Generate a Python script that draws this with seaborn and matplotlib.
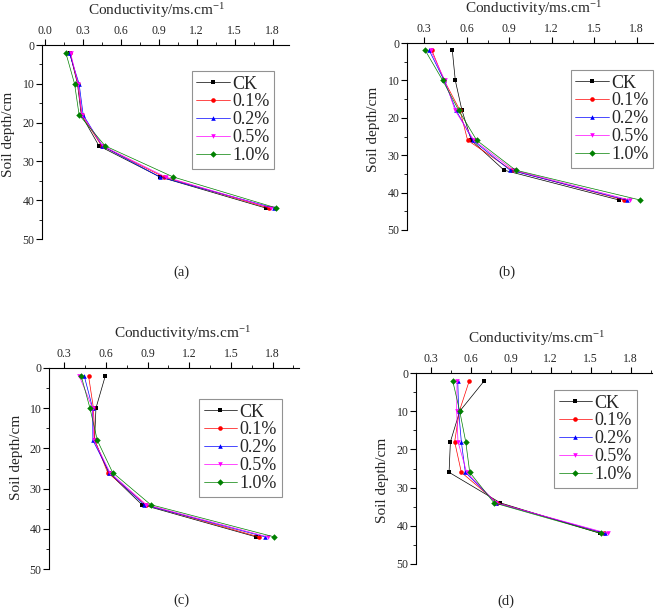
import numpy as np
import pandas as pd
import matplotlib
matplotlib.use("Agg")
import matplotlib.pyplot as plt
from matplotlib.lines import Line2D
from matplotlib.ticker import MultipleLocator
import seaborn as sns

sns.set_style("white")
plt.rcParams["font.family"] = ["Liberation Serif", "DejaVu Serif"]
plt.rcParams["mathtext.fontset"] = "custom"
plt.rcParams["mathtext.rm"] = "Liberation Serif"
plt.rcParams["mathtext.default"] = "regular"

# ---------------- data ----------------
depth = [2, 10, 18, 26, 34, 42]
treatments = ["CK", "0.1%", "0.2%", "0.5%", "1.0%"]

a_ck = [0.20, 0.26, 0.29, 0.43, 0.91, 1.745]
a_01 = [0.20, 0.265, 0.295, 0.45, 0.94, 1.77]
a_02 = [0.195, 0.273, 0.305, 0.455, 0.91, 1.81]
a_05 = [0.205, 0.265, 0.295, 0.46, 0.955, 1.79]
a_10 = [0.168, 0.237, 0.273, 0.478, 1.015, 1.83]

b_ck = [0.498, 0.519, 0.566, 0.632, 0.863, 1.677]
b_01 = [0.354, 0.44, 0.552, 0.606, 0.917, 1.712]
b_02 = [0.335, 0.44, 0.525, 0.642, 0.905, 1.73]
b_05 = [0.345, 0.446, 0.517, 0.65, 0.93, 1.753]
b_10 = [0.307, 0.43, 0.543, 0.67, 0.945, 1.826]

c_ck = [0.595, 0.528, 0.518, 0.619, 0.859, 1.68]
c_01 = [0.475, 0.51, 0.52, 0.612, 0.886, 1.70]
c_02 = [0.444, 0.504, 0.506, 0.624, 0.874, 1.745]
c_05 = [0.408, 0.504, 0.514, 0.629, 0.89, 1.764]
c_10 = [0.422, 0.485, 0.538, 0.648, 0.922, 1.81]

d_ck = [0.703, 0.518, 0.448, 0.438, 0.823, 1.573]
d_01 = [0.59, 0.515, 0.48, 0.53, 0.80, 1.598]
d_02 = [0.503, 0.51, 0.53, 0.56, 0.79, 1.61]
d_05 = [0.498, 0.495, 0.505, 0.57, 0.79, 1.63]
d_10 = [0.465, 0.518, 0.563, 0.593, 0.775, 1.58]

panel_names = ["(a)", "(b)", "(c)", "(d)"]
panel_series = [
    [a_ck, a_01, a_02, a_05, a_10],
    [b_ck, b_01, b_02, b_05, b_10],
    [c_ck, c_01, c_02, c_05, c_10],
    [d_ck, d_01, d_02, d_05, d_10],
]
x_ticks_list = [
    [0.0, 0.3, 0.6, 0.9, 1.2, 1.5, 1.8],
    [0.3, 0.6, 0.9, 1.2, 1.5, 1.8],
    [0.3, 0.6, 0.9, 1.2, 1.5, 1.8],
    [0.3, 0.6, 0.9, 1.2, 1.5, 1.8],
]
y_ticks = [0, 10, 20, 30, 40, 50]

# ---------------- styling ----------------
colors = ["#000000", "#FF0000", "#0000FF", "#FF00FF", "#008000"]
markers = ["s", "o", "^", "v", "D"]
palette = dict(zip(treatments, colors))
marker_map = dict(zip(treatments, markers))

W, H = 660, 616
fig = plt.figure(figsize=(W / 100, H / 100), dpi=100)

# axes boxes in pixels: left, right, top, bottom
boxes = [
    (42, 289, 45, 239),
    (407, 653, 43, 230),
    (49, 299, 368, 569),
    (416, 652, 373, 564),
]
xlims = [(-0.02, 1.93), (0.178, 1.915), (0.19, 1.99), (0.19, 1.96)]
xlabel_frac = [0.464, 0.515, 0.532, 0.511]
ylabel_frac = [0.539, 0.54, 0.555, 0.44]
legend_pos = [(191.7, 71), (570.7, 70), (199, 399), (554, 390)]
panel_label_pos = [(181.7, 272), (506.7, 272), (181.7, 600), (506, 601)]

for i in range(4):
    l, r, t, b = boxes[i]
    ax = fig.add_axes([l / W, 1 - b / H, (r - l) / W, (b - t) / H])
    rows = []
    for name, vals in zip(treatments, panel_series[i]):
        for d, v in zip(depth, vals):
            rows.append({"cond": v, "depth": d, "treat": name})
    df = pd.DataFrame(rows)
    sns.lineplot(data=df, x="cond", y="depth", hue="treat", style="treat",
                 palette=palette, markers=marker_map, dashes=False,
                 sort=False, estimator=None, legend=False, ax=ax,
                 linewidth=0.5, markersize=3.3, markeredgewidth=0)

    ax.set_xlim(*xlims[i])
    ax.set_ylim(50, 0)
    ax.xaxis.tick_top()
    ax.xaxis.set_label_position("top")
    ax.set_xticks(x_ticks_list[i])
    ax.set_xticklabels([f"{v:.1f}" for v in x_ticks_list[i]])
    ax.xaxis.set_minor_locator(MultipleLocator(0.15))
    ax.set_yticks(y_ticks)
    ax.yaxis.set_minor_locator(MultipleLocator(5))
    ax.tick_params(axis="both", which="major", direction="out", length=4,
                   width=0.8, labelsize=8.5, pad=1.5, color="black")
    ax.tick_params(axis="both", which="minor", direction="out", length=2.2,
                   width=0.6, color="black")
    ax.tick_params(axis="x", which="both", top=True, bottom=False)
    ax.tick_params(axis="y", which="both", left=True, right=False)
    for s in ["right", "bottom"]:
        ax.spines[s].set_visible(False)
    for s in ["left", "top"]:
        ax.spines[s].set_color("black")
        ax.spines[s].set_linewidth(0.8)

    wpx, hpx = r - l, b - t
    ax.set_xlabel("Conductivity/ms.cm$^{-1}$", fontsize=11)
    ax.xaxis.set_label_coords(xlabel_frac[i], 1 + 34 / hpx)
    ax.xaxis.label.set_va("center")
    ax.set_ylabel("Soil depth/cm", fontsize=11)
    ax.yaxis.set_label_coords(-33 / wpx, ylabel_frac[i])
    ax.yaxis.label.set_va("center")

    handles = [Line2D([0], [0], color=c, marker=m, lw=0.5, markersize=3.3,
                      markeredgewidth=0) for c, m in zip(colors, markers)]
    lx, ly = legend_pos[i]
    leg = ax.legend(handles, treatments, loc="upper left",
                    bbox_to_anchor=(lx / W, 1 - ly / H),
                    bbox_transform=fig.transFigure, borderaxespad=0,
                    fontsize=13, handlelength=1.85, handletextpad=0.15,
                    labelspacing=0.05, borderpad=0.25, fancybox=False,
                    frameon=True)
    leg.get_frame().set_edgecolor("#777777")
    leg.get_frame().set_linewidth(0.8)

    px, py = panel_label_pos[i]
    fig.text(px / W, 1 - py / H, panel_names[i], ha="center", va="center",
             fontsize=10.5)

fig.savefig("out.png", dpi=100)
